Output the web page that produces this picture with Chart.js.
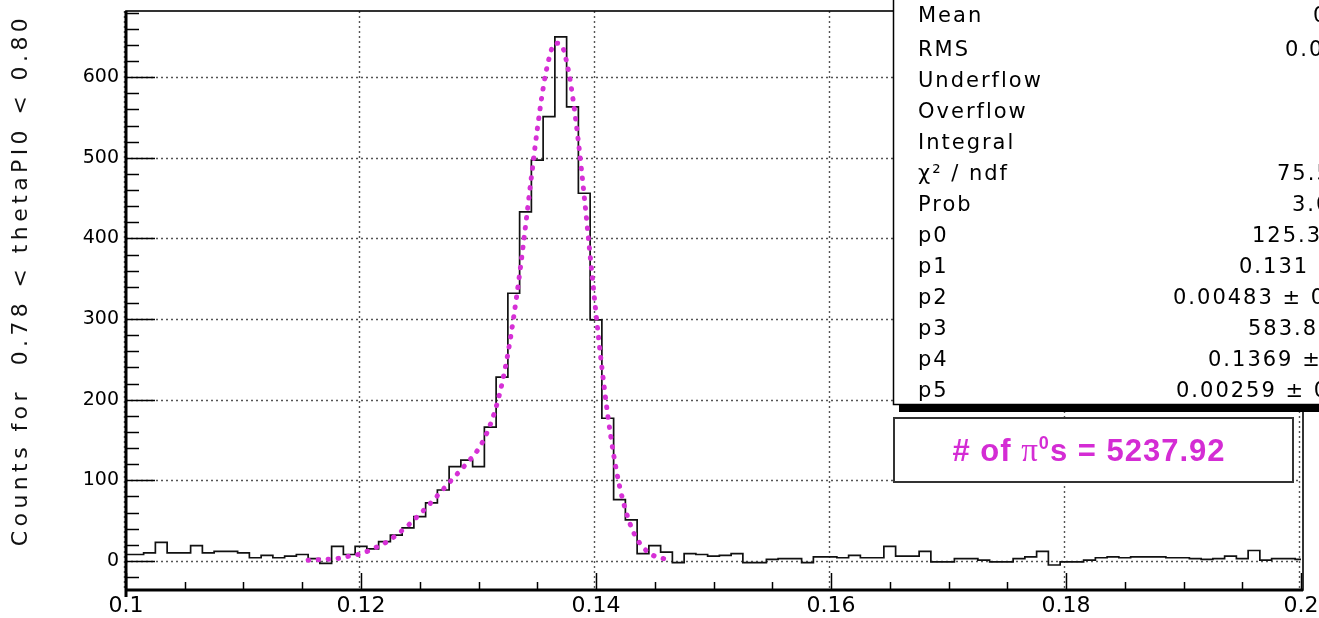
<!DOCTYPE html>
<html>
<head>
<meta charset="utf-8">
<script src="https://cdn.jsdelivr.net/npm/chart.js@4/dist/chart.umd.min.js"></script>
<style>
  html, body { margin: 0; padding: 0; background: #fff; }
  #wrap { width: 1319px; height: 618px; }
</style>
</head>
<body>
<div id="wrap"><canvas id="pi0" width="1319" height="618"></canvas></div>
<script>
// -- THE DATA --

// histogram: 101 bins of width 0.001, centred on 0.100 ... 0.200
const binWidth = 0.001;
const binCenters = Array.from({ length: 101 }, (_, i) => +(0.1 + i * binWidth).toFixed(3));
const binCounts = [
  8, 8, 10, 23, 10, 10, 19, 10, 12, 12,
  10, 4, 7, 4, 6, 8, 3, -3, 18, 8,
  18, 15, 24, 32, 41, 55, 72, 88, 117, 125,
  117, 166, 228, 332, 433, 497, 551, 650, 563, 456,
  299, 177, 76, 51, 9, 19, 11, -2, 9, 8,
  6, 7, 9, -2, -2, 2, 3, 3, -2, 5,
  5, 4, 7, 4, 4, 18, 6, 6, 12, -1,
  -1, 3, 3, 1, -1, -1, 3, 5, 12, -5,
  -1, -1, 1, 4, 5, 4, 5, 5, 5, 4,
  4, 3, 2, 3, 6, 3, 13, 1, 3, 3,
  2
];

// dotted fit curve
const fitX = [
  0.1155, 0.117, 0.118, 0.119, 0.120, 0.121, 0.122, 0.123, 0.124, 0.125,
  0.126, 0.127, 0.128, 0.129, 0.130, 0.1305, 0.131, 0.1315, 0.132, 0.1325,
  0.133, 0.1335, 0.134, 0.1345, 0.135, 0.1355, 0.136, 0.1365, 0.137, 0.1375,
  0.138, 0.1385, 0.139, 0.1395, 0.140, 0.1405, 0.141, 0.1415, 0.142, 0.1425,
  0.143, 0.1435, 0.144, 0.1445, 0.145, 0.146
];
const fitY = [
  1, 2, 3, 6, 9, 15, 22, 32, 44, 58,
  73, 89, 105, 121, 139, 152, 169, 191, 220, 257,
  303, 356, 415, 476, 535, 586, 623, 642, 641, 619,
  577, 520, 452, 379, 307, 240, 181, 132, 93, 64,
  42, 27, 17, 10, 6, 2
];

const xTickValues = [0.1, 0.12, 0.14, 0.16, 0.18, 0.2];
const yTickValues = [0, 100, 200, 300, 400, 500, 600];

const yTitle = 'Counts for  0.78 < thetaPI0 < 0.80';

const statNames = ['Mean', 'RMS', 'Underflow', 'Overflow', 'Integral', '\u03C7\u00B2 / ndf', 'Prob',
  'p0', 'p1', 'p2', 'p3', 'p4', 'p5'];
const statValues = ['0.1371', '0.01733', '0', '0', '6781', '75.53 / 94', '3.06e-01',
  '125.3 \u00B1 6.4', '0.131 \u00B1 0.000', '0.00483 \u00B1 0.00012', '583.8 \u00B1 9.9',
  '0.1369 \u00B1 0.0000', '0.00259 \u00B1 0.00003'];
// where each value string starts (the box runs off the right edge)
const statValueX = [1313, 1285, 1330, 1330, 1330, 1277, 1292, 1252, 1239, 1173, 1248, 1208, 1176];

const nPi0 = '5237.92';

// -- THE DATA OBJ --

const histPoints = binCenters.map((c, i) => ({ x: c - binWidth / 2, y: binCounts[i] }));
histPoints.push({ x: binCenters[binCenters.length - 1] + binWidth / 2, y: binCounts[binCounts.length - 1] });

const fitPoints = fitX.map((v, i) => ({ x: v, y: fitY[i] }));

const pi0_data_obj = {
  datasets: [{
    data: fitPoints,
    borderColor: '#d630d6',
    borderWidth: 5,
    borderDash: [0.5, 9.5],
    borderCapStyle: 'round',
    cubicInterpolationMode: 'monotone',
    pointRadius: 0,
    fill: false
  }, {
    data: histPoints,
    borderColor: '#111',
    borderWidth: 1.7,
    stepped: 'before',
    pointRadius: 0,
    fill: false
  }]
};

// -- ROOT style frame, ticks, stats box --

const FONT = '"DejaVu Sans", sans-serif';

const rootDecor = {
  id: 'rootDecor',
  beforeDatasetsDraw(chart) {
    const { ctx, chartArea: a, scales: { x, y } } = chart;
    ctx.save();
    ctx.strokeStyle = '#555';
    ctx.lineWidth = 1.4;
    ctx.setLineDash([2, 3]);
    xTickValues.forEach(v => {
      const px = Math.round(x.getPixelForValue(v)) - 1.5;
      ctx.beginPath(); ctx.moveTo(px, a.top); ctx.lineTo(px, a.bottom); ctx.stroke();
    });
    yTickValues.forEach(v => {
      const py = Math.round(y.getPixelForValue(v)) + 0.5;
      ctx.beginPath(); ctx.moveTo(a.left, py); ctx.lineTo(a.right, py); ctx.stroke();
    });
    ctx.restore();
  },
  afterDatasetsDraw(chart) {
    const { ctx, chartArea: a, scales: { x, y } } = chart;
    ctx.save();
    ctx.setLineDash([]);
    ctx.strokeStyle = '#000';

    // frame
    ctx.lineWidth = 1.6;
    ctx.strokeRect(a.left, a.top, a.right - a.left + 2, a.bottom - a.top);

    // y ticks (inside)
    ctx.lineWidth = 1.5;
    for (let v = -20; v <= 680; v += 20) {
      const py = Math.round(y.getPixelForValue(v)) + 0.5;
      const len = v % 100 === 0 ? 29 : 13;
      ctx.beginPath(); ctx.moveTo(a.left, py); ctx.lineTo(a.left + len, py); ctx.stroke();
    }
    // x ticks (inside)
    for (let i = 0; i <= 20; i++) {
      const v = 0.1 + i * 0.005;
      const px = Math.round(x.getPixelForValue(v)) + 0.5;
      const len = i % 4 === 0 ? 17 : 8;
      ctx.beginPath(); ctx.moveTo(px, a.bottom); ctx.lineTo(px, a.bottom - len); ctx.stroke();
    }

    // axes
    ctx.lineWidth = 3;
    ctx.beginPath(); ctx.moveTo(a.left, a.top); ctx.lineTo(a.left, a.bottom + 7); ctx.stroke();
    ctx.beginPath(); ctx.moveTo(a.left - 1, a.bottom); ctx.lineTo(a.right + 2, a.bottom); ctx.stroke();

    // y title
    ctx.save();
    ctx.translate(21, 280);
    ctx.rotate(-Math.PI / 2);
    ctx.font = '22px ' + FONT;
    ctx.letterSpacing = '4.4px';
    ctx.fillStyle = '#111';
    ctx.textAlign = 'center';
    ctx.textBaseline = 'middle';
    ctx.fillText(yTitle, 0, 0);
    ctx.restore();

    // stats box
    ctx.fillStyle = '#000';
    ctx.fillRect(899, 405, 440, 7);
    ctx.fillStyle = '#fff';
    ctx.fillRect(893, -5, 440, 409);
    ctx.lineWidth = 1.5;
    ctx.strokeRect(893.5, -5, 440, 409.5);
    ctx.font = '21px ' + FONT;
    ctx.letterSpacing = '2px';
    ctx.fillStyle = '#000';
    ctx.textBaseline = 'middle';
    ctx.textAlign = 'left';
    statNames.forEach((s, i) => {
      const ty = 17 + (i === 0 ? 0 : 34 + (i - 1) * 31);
      ctx.fillText(s, 918, ty);
      ctx.fillText(statValues[i], statValueX[i], ty);
    });

    // number of pi0 box
    ctx.fillStyle = '#fff';
    ctx.fillRect(893, 417, 400, 65);
    ctx.strokeStyle = '#333';
    ctx.lineWidth = 2;
    ctx.strokeRect(894, 418, 399, 64);
    ctx.fillStyle = '#d42cd4';
    ctx.letterSpacing = '1px';
    const bold = 'bold 31px "Liberation Sans", Arial, sans-serif';
    const greek = '33px "Liberation Serif", serif';
    const sup = 'bold 18px "Liberation Sans", Arial, sans-serif';
    const parts = [
      ['# of ', bold, 0], ['\u03C0', greek, 0], ['0', sup, -12], ['s = ' + nPi0, bold, 0]
    ];
    let w = 0;
    parts.forEach(p => { ctx.font = p[1]; w += ctx.measureText(p[0]).width; });
    let tx = 1089 - w / 2;
    ctx.textBaseline = 'alphabetic';
    parts.forEach(p => {
      ctx.font = p[1];
      ctx.fillText(p[0], tx, 461 + p[2]);
      tx += ctx.measureText(p[0]).width;
    });
    ctx.restore();
  }
};

// -- THE CHART --

const pi0_chart_obj = {
  type: 'line',
  data: pi0_data_obj,
  options: {
    responsive: false,
    animation: false,
    layout: { padding: { top: 11, right: 18, left: 0, bottom: 0 } },
    plugins: { legend: { display: false }, tooltip: { enabled: false } },
    scales: {
      x: {
        type: 'linear',
        min: 0.1,
        max: 0.2,
        grid: { display: false, drawTicks: false },
        border: { display: false },
        afterBuildTicks: s => { s.ticks = xTickValues.map(v => ({ value: v })); },
        afterFit: s => { s.height = 28; s.paddingLeft = 0; s.paddingRight = 0; },
        ticks: {
          autoSkip: false,
          maxRotation: 0,
          padding: 3,
          color: '#000',
          font: { family: FONT, size: 22 },
          callback: v => String(+v.toFixed(3))
        }
      },
      y: {
        type: 'linear',
        min: -36,
        max: 682,
        grid: { display: false, drawTicks: false },
        border: { display: false },
        afterBuildTicks: s => { s.ticks = yTickValues.map(v => ({ value: v })); },
        afterFit: s => { s.width = 126; s.paddingTop = 0; s.paddingBottom = 0; },
        ticks: {
          padding: 7,
          color: '#000',
          font: { family: FONT, size: 19 }
        }
      }
    }
  },
  plugins: [rootDecor]
};

new Chart('pi0', pi0_chart_obj);
</script>
</body>
</html>
